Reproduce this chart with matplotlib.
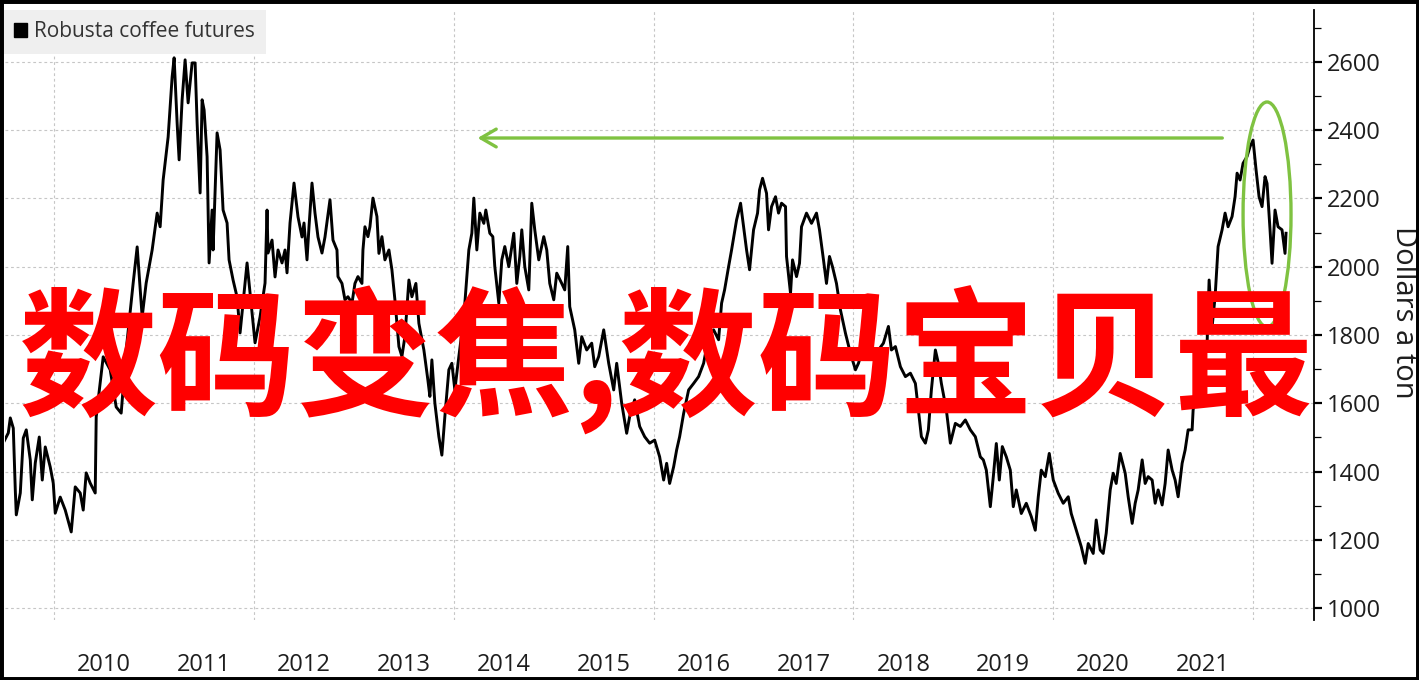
"""Robusta coffee futures, 2009-2022, with the red headline overlay."""

import matplotlib.pyplot as plt
import numpy as np
from matplotlib.patches import Ellipse, FancyArrowPatch, Patch, Rectangle
from matplotlib.ticker import FixedLocator, MultipleLocator

plt.rcParams['font.family'] = ['Open Sans', 'DejaVu Sans']

# decimal years and dollars a ton
years_2009_2012 = [
    2009.49, 2009.54, 2009.56, 2009.59, 2009.61, 2009.62, 2009.66, 2009.69, 2009.72, 2009.76,
    2009.78, 2009.81, 2009.85, 2009.88, 2009.91, 2009.96, 2009.99, 2010.01, 2010.06, 2010.11,
    2010.17, 2010.21, 2010.26, 2010.29, 2010.32, 2010.36, 2010.41, 2010.42, 2010.46, 2010.49,
    2010.56, 2010.62, 2010.67, 2010.72, 2010.79, 2010.83, 2010.88, 2010.92, 2010.98, 2011.03,
    2011.06, 2011.09, 2011.14, 2011.18, 2011.20, 2011.23, 2011.25, 2011.28, 2011.31, 2011.34,
    2011.38, 2011.41, 2011.43, 2011.46, 2011.48, 2011.50, 2011.53, 2011.55, 2011.58, 2011.59,
    2011.63, 2011.66, 2011.69, 2011.73, 2011.75, 2011.79, 2011.83, 2011.86, 2011.89, 2011.93,
    2011.97, 2012.01, 2012.06, 2012.11, 2012.13, 2012.14, 2012.18, 2012.21, 2012.24, 2012.28,
    2012.31, 2012.33, 2012.36, 2012.40, 2012.44, 2012.48, 2012.50, 2012.53, 2012.55, 2012.58,
    2012.61, 2012.64, 2012.68, 2012.71,
]
price_2009_2012 = [
    1484, 1513, 1557, 1527, 1346, 1273, 1337, 1498, 1522, 1434,
    1317, 1425, 1501, 1375, 1472, 1413, 1366, 1278, 1325, 1287,
    1223, 1355, 1337, 1287, 1396, 1366, 1337, 1560, 1659, 1736,
    1698, 1589, 1571, 1756, 1952, 2058, 1853, 1952, 2049, 2157,
    2117, 2254, 2380, 2556, 2612, 2421, 2313, 2489, 2606, 2480,
    2597, 2597, 2421, 2216, 2489, 2459, 2322, 2011, 2166, 2049,
    2392, 2342, 2166, 2128, 2020, 1961, 1911, 1806, 1894, 2011,
    1894, 1777, 1853, 1952, 2166, 2040, 2078, 1970, 2049, 2011,
    2049, 1982, 2128, 2245, 2146, 2087, 2128, 2020, 2117, 2245,
    2157, 2087, 2040, 2087,
]

years_2012_2016 = [
    2012.76, 2012.79, 2012.83, 2012.84, 2012.88, 2012.91, 2012.94, 2012.98, 2013.01, 2013.04,
    2013.08, 2013.09, 2013.11, 2013.14, 2013.16, 2013.19, 2013.23, 2013.25, 2013.28, 2013.31,
    2013.35, 2013.38, 2013.41, 2013.45, 2013.48, 2013.51, 2013.55, 2013.58, 2013.62, 2013.65,
    2013.70, 2013.74, 2013.76, 2013.78, 2013.81, 2013.85, 2013.88, 2013.91, 2013.95, 2013.98,
    2014.01, 2014.05, 2014.10, 2014.15, 2014.18, 2014.20, 2014.23, 2014.26, 2014.30, 2014.32,
    2014.36, 2014.39, 2014.41, 2014.45, 2014.48, 2014.51, 2014.55, 2014.58, 2014.60, 2014.63,
    2014.66, 2014.68, 2014.71, 2014.75, 2014.78, 2014.81, 2014.85, 2014.90, 2014.93, 2014.96,
    2015.00, 2015.03, 2015.08, 2015.11, 2015.14, 2015.16, 2015.21, 2015.25, 2015.28, 2015.33,
    2015.38, 2015.41, 2015.45, 2015.50, 2015.55, 2015.60, 2015.63, 2015.68, 2015.73, 2015.76,
    2015.81, 2015.86, 2015.91, 2015.96, 2016.01,
]
price_2012_2016 = [
    2196, 2078, 2049, 1971, 1951, 1903, 1912, 1893, 1951, 1971,
    1951, 2049, 2117, 2088, 2117, 2201, 2147, 2039, 2088, 2020,
    2049, 1991, 1903, 1766, 1737, 1795, 1961, 1912, 1951, 1834,
    1756, 1668, 1620, 1727, 1600, 1502, 1448, 1561, 1698, 1717,
    1639, 1737, 1854, 2049, 2098, 2201, 2049, 2157, 2127, 2166,
    2098, 2088, 2000, 1893, 2020, 2059, 2000, 2059, 2098, 1951,
    2030, 2108, 2000, 1932, 2186, 2108, 2020, 2088, 2049, 1951,
    1903, 1981, 1951, 1932, 2059, 1883, 1815, 1717, 1795, 1756,
    1776, 1707, 1737, 1815, 1717, 1639, 1717, 1600, 1512, 1561,
    1610, 1532, 1502, 1483, 1492,
]

years_2016_2019 = [
    2016.06, 2016.10, 2016.13, 2016.16, 2016.20, 2016.23, 2016.26, 2016.30, 2016.35, 2016.40,
    2016.45, 2016.50, 2016.55, 2016.60, 2016.65, 2016.68, 2016.71, 2016.75, 2016.78, 2016.83,
    2016.87, 2016.90, 2016.93, 2016.96, 2017.00, 2017.04, 2017.06, 2017.09, 2017.13, 2017.15,
    2017.18, 2017.22, 2017.25, 2017.28, 2017.32, 2017.33, 2017.37, 2017.39, 2017.43, 2017.46,
    2017.48, 2017.53, 2017.58, 2017.63, 2017.66, 2017.70, 2017.73, 2017.76, 2017.79, 2017.83,
    2017.87, 2017.92, 2017.97, 2018.02, 2018.05, 2018.10, 2018.15, 2018.20, 2018.25, 2018.30,
    2018.35, 2018.38, 2018.42, 2018.47, 2018.52, 2018.57, 2018.62, 2018.65, 2018.68, 2018.72,
    2018.75, 2018.78, 2018.82, 2018.85, 2018.88, 2018.93, 2018.97, 2019.02, 2019.07, 2019.12,
    2019.17, 2019.22, 2019.27,
]
price_2016_2019 = [
    1443, 1375, 1424, 1365, 1414, 1463, 1502, 1570, 1639, 1658,
    1678, 1717, 1795, 1815, 1786, 1893, 1932, 2000, 2049, 2137,
    2186, 2117, 2049, 1991, 2108, 2157, 2225, 2259, 2215, 2108,
    2176, 2205, 2157, 2186, 2176, 2030, 1922, 2020, 1971, 2010,
    2117, 2157, 2127, 2157, 2108, 2020, 1951, 2030, 2000, 1951,
    1873, 1805, 1746, 1698, 1717, 1766, 1795, 1756, 1756, 1776,
    1825, 1756, 1766, 1707, 1678, 1688, 1658, 1580, 1502, 1483,
    1522, 1639, 1756, 1717, 1658, 1580, 1483, 1541, 1532, 1551,
    1522, 1502, 1443,
]

years_2019_2022 = [
    2019.30, 2019.33, 2019.37, 2019.40, 2019.43, 2019.46, 2019.49, 2019.53, 2019.57, 2019.60,
    2019.63, 2019.68, 2019.73, 2019.78, 2019.82, 2019.85, 2019.88, 2019.92, 2019.96, 2020.00,
    2020.05, 2020.10, 2020.15, 2020.18, 2020.23, 2020.28, 2020.32, 2020.35, 2020.40, 2020.43,
    2020.47, 2020.50, 2020.53, 2020.57, 2020.60, 2020.63, 2020.67, 2020.72, 2020.75, 2020.79,
    2020.82, 2020.85, 2020.89, 2020.92, 2020.95, 2020.99, 2021.02, 2021.05, 2021.09, 2021.12,
    2021.15, 2021.19, 2021.22, 2021.25, 2021.29, 2021.32, 2021.35, 2021.39, 2021.40, 2021.47,
    2021.54, 2021.56, 2021.59, 2021.62, 2021.65, 2021.69, 2021.72, 2021.75, 2021.79, 2021.82,
    2021.84, 2021.87, 2021.90, 2021.94, 2021.97, 2022.00, 2022.03, 2022.06, 2022.09, 2022.12,
    2022.14, 2022.17, 2022.19, 2022.22, 2022.25, 2022.29, 2022.32, 2022.33,
]
price_2019_2022 = [
    1434, 1404, 1297, 1385, 1482, 1375, 1473, 1443, 1404, 1297,
    1346, 1277, 1307, 1268, 1228, 1326, 1404, 1385, 1453, 1375,
    1336, 1307, 1326, 1277, 1228, 1180, 1131, 1189, 1160, 1258,
    1170, 1160, 1219, 1346, 1395, 1365, 1453, 1395, 1326, 1248,
    1307, 1346, 1434, 1365, 1385, 1375, 1307, 1346, 1302, 1365,
    1463, 1404, 1375, 1326, 1424, 1463, 1522, 1522, 1580, 1697,
    1776, 1961, 1824, 1912, 2059, 2108, 2157, 2117, 2147, 2205,
    2274, 2254, 2303, 2323, 2352, 2371, 2284, 2205, 2176, 2264,
    2244, 2108, 2010, 2166, 2117, 2108, 2039, 2098,
]

year_labels = list(range(2010, 2022))
grid_years = list(range(2010, 2023, 2))
price_ticks = list(range(1000, 2601, 200))

# annotations drawn on top of the chart
arrow_start = (2021.72, 2377)
arrow_end = (2014.21, 2377)
ring_center = (2022.14, 2153)
ring_width = 0.48
ring_height = 659

headline = '数码变焦,数码宝贝最'
series_name = 'Robusta coffee futures'

GREEN = '#7fc241'
GRID = '#c6c6c6'
TEXT = '#1e1e1e'

years = np.concatenate([years_2009_2012, years_2012_2016, years_2016_2019, years_2019_2022])
prices = np.concatenate([price_2009_2012, price_2012_2016, price_2016_2019, price_2019_2022])

fig = plt.figure(figsize=(14.19, 6.8), dpi=100)
ax = fig.add_axes([5 / 1419, 60 / 680, 1309 / 1419, 610 / 680])

ax.plot(years, prices, color='black', lw=2.1, zorder=3)
ax.set_xlim(2009.507, 2022.61)
ax.set_ylim(965, 2752)

for side in ('left', 'top', 'bottom'):
    ax.spines[side].set_visible(False)
ax.spines['right'].set_linewidth(1.3)

# right hand price axis
ax.yaxis.tick_right()
ax.yaxis.set_major_locator(FixedLocator(price_ticks))
ax.yaxis.set_minor_locator(MultipleLocator(100))
ax.tick_params(axis='y', which='major', direction='out', length=6, width=1.6,
               pad=3, labelsize=17, labelcolor=TEXT)
ax.tick_params(axis='y', which='minor', direction='out', length=5, width=0.9)
ax.set_ylabel('Dollars a ton', rotation=270, fontsize=21, color=TEXT)
ax.yaxis.set_label_position('right')
ax.yaxis.set_label_coords((1404 - 5) / 1309, 0.505)
ax.yaxis.label.set_va('center')
ax.yaxis.label.set_ha('center')

# year labels sit mid-year, grid lines on every other new year
ax.set_xticks([y + 0.5 for y in year_labels], labels=[str(y) for y in year_labels])
ax.xaxis.set_minor_locator(FixedLocator(grid_years))
ax.tick_params(axis='x', which='both', length=0, pad=24, labelsize=17, labelcolor=TEXT)

ax.grid(True, axis='y', which='major', color=GRID, lw=0.8, ls=(0, (2.5, 2.5)))
ax.grid(True, axis='x', which='minor', color=GRID, lw=0.8, ls=(0, (2.5, 2.5)))
ax.grid(False, axis='x', which='major')
ax.set_axisbelow(True)

leg = ax.legend(handles=[Patch(facecolor='black', edgecolor='black', label=series_name)],
                loc='upper left', bbox_to_anchor=(-0.002, 1.0), borderaxespad=0,
                frameon=True, fancybox=False, facecolor='#efefef', edgecolor='none',
                framealpha=1, fontsize=15, handlelength=0.65, handleheight=0.65,
                handletextpad=0.3, borderpad=0.55)
for t in leg.get_texts():
    t.set_color('#333333')

arrow = FancyArrowPatch(arrow_start, arrow_end, arrowstyle='->,head_length=0.55,head_width=0.32',
                        mutation_scale=20, color=GREEN, lw=2.4, zorder=4)
ax.add_patch(arrow)
ax.add_patch(Ellipse(ring_center, ring_width, ring_height, fill=False,
                     edgecolor=GREEN, lw=2.4, zorder=4))

fig.text(666.5 / 1419, 1 - 361 / 680, headline, color='#ff0000', fontsize=100,
         fontweight='bold', family=['Noto Sans CJK SC', 'DejaVu Sans'],
         ha='center', va='center', zorder=10)

fig.add_artist(Rectangle((0, 0), 1, 1, transform=fig.transFigure, fill=False,
                         edgecolor='black', lw=5, zorder=20))

fig.savefig('out.png', dpi=100)
